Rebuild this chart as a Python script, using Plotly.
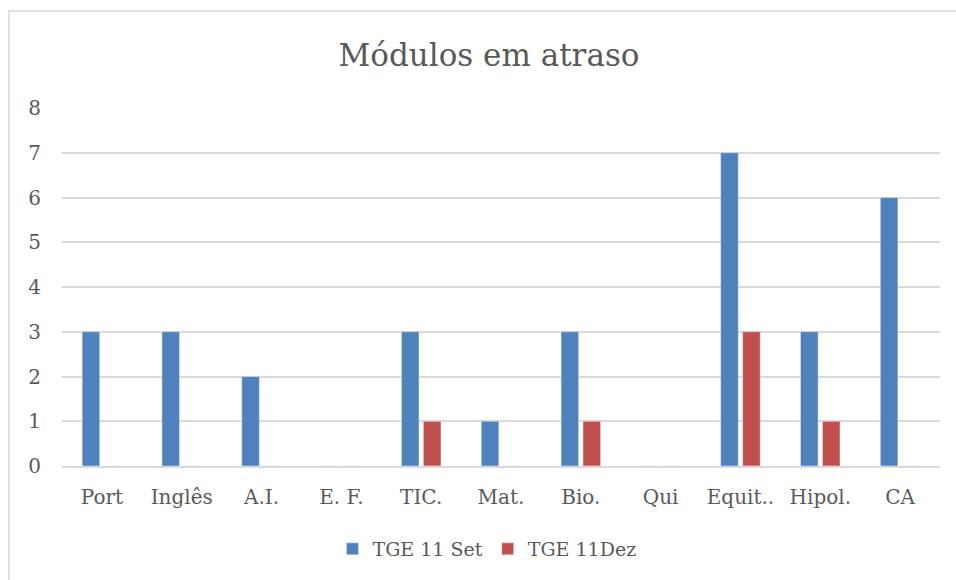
import plotly.graph_objects as go

categories = ["Port", "Inglês", "A.I.", "E. F.", "TIC.", "Mat.", "Bio.", "Qui", "Equit..", "Hipol.", "CA"]
tge_set = [3, 3, 2, 0, 3, 1, 3, 0, 7, 3, 6]
tge_dez = [0, 0, 0, 0, 1, 0, 1, 0, 3, 1, 0]

W, H = 956, 580
L, R, T, B = 62, 16, 108, 114
pw, ph = W - L - R, H - T - B

font = "DejaVu Serif"
grey = "#595959"

fig = go.Figure()
fig.add_trace(go.Bar(x=categories, y=tge_set, name="TGE 11 Set", marker_color="#4f81bd"))
fig.add_trace(go.Bar(x=categories, y=tge_dez, name="TGE 11Dez", marker_color="#c0504d"))

# chart area border, Excel style
fig.add_shape(type="rect", xref="paper", yref="paper",
              x0=(9 - L) / pw, x1=(W + 5 - L) / pw,
              y0=(H - B - (H + 5)) / ph, y1=(H - B - 11) / ph,
              line=dict(color="#d9d9d9", width=1.5), layer="below")

fig.update_layout(
    width=W, height=H,
    margin=dict(l=L, r=R, t=T, b=B),
    paper_bgcolor="white", plot_bgcolor="white",
    font=dict(family=font, color=grey, size=20),
    title=dict(text="Módulos em atraso", x=489 / W, xanchor="center",
               y=1 - 55 / H, yanchor="middle",
               font=dict(family=font, size=31, color=grey)),
    barmode="group", bargap=0.45, bargroupgap=0.2,
    showlegend=True,
    legend=dict(orientation="h", x=487 / W, xanchor="center", xref="container",
                y=(H - 549) / H, yref="container", yanchor="middle",
                font=dict(size=19, color=grey), itemwidth=30),
    xaxis=dict(showgrid=False, showline=True, linecolor="#d9d9d9", linewidth=1.5,
               ticks="", ticklabelstandoff=12),
    yaxis=dict(range=[0, 8], dtick=1, showgrid=True, gridcolor="#d9d9d9", gridwidth=1.5,
               zeroline=False, showline=False, ticks="", ticklabelstandoff=20),
)

# page has a default body margin; drop it so the figure sits at the window origin
fig.write_html("out.html", config={"displayModeBar": False},
               post_script="document.body.style.margin='0px';")
